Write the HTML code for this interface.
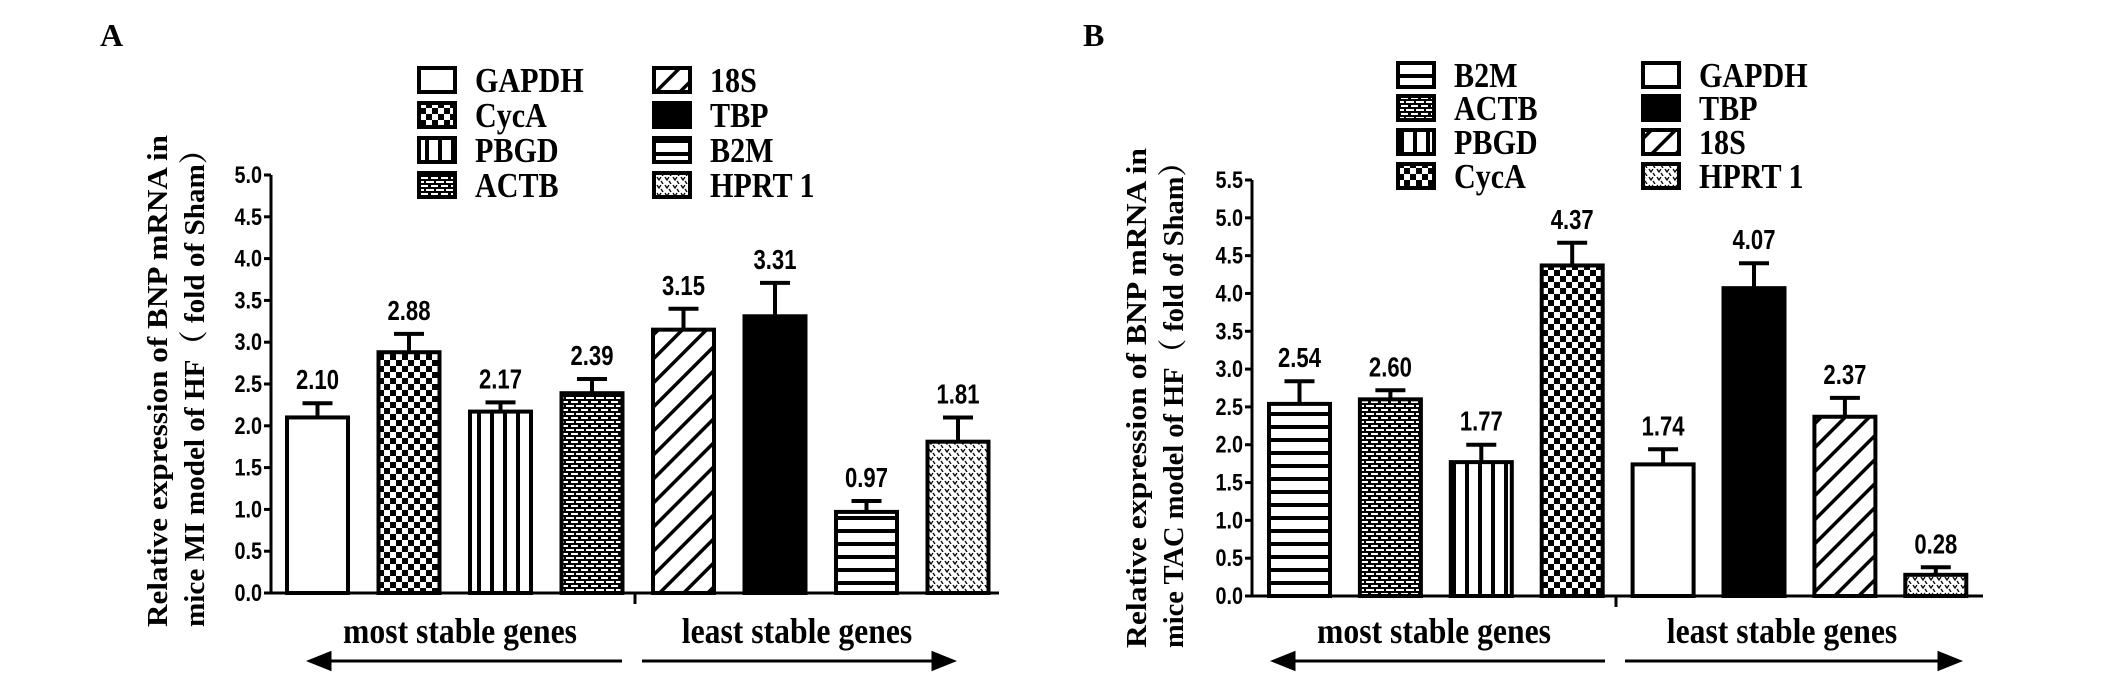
<!DOCTYPE html>
<html><head><meta charset="utf-8"><style>
body{margin:0;background:#fff;}
svg{display:block;}
.ser{font-family:"Liberation Serif","Noto Serif CJK SC",serif;font-weight:bold;}
.san{font-family:"Liberation Sans",sans-serif;font-weight:bold;}
</style></head><body>
<svg id="c" width="2126" height="678" viewBox="0 0 2126 678" xmlns="http://www.w3.org/2000/svg">
<defs>
<pattern id="p-check" width="12" height="12" patternUnits="userSpaceOnUse"><rect width="12" height="12" fill="#fff"/><rect width="6" height="6" fill="#000"/><rect x="6" y="6" width="6" height="6" fill="#000"/></pattern>
<pattern id="p-vert" width="13" height="10" patternUnits="userSpaceOnUse"><rect width="13" height="10" fill="#fff"/><rect x="9" width="4" height="10" fill="#000"/></pattern>
<pattern id="p-horz" width="10" height="13" patternUnits="userSpaceOnUse"><rect width="10" height="13" fill="#fff"/><rect y="9" width="10" height="4" fill="#000"/></pattern>
<pattern id="p-brick" width="10" height="8" patternUnits="userSpaceOnUse"><rect width="10" height="8" fill="#000"/><rect x="1" y="1" width="7" height="2" fill="#fff"/><rect x="6" y="5" width="4" height="2" fill="#fff"/><rect x="0" y="5" width="4" height="2" fill="#fff"/></pattern>
<pattern id="p-diag" width="17" height="17" patternUnits="userSpaceOnUse" patternTransform="rotate(45)"><rect width="17" height="17" fill="#fff"/><rect x="0" width="3.5" height="17" fill="#000"/></pattern>
<pattern id="p-dots" width="8" height="8" patternUnits="userSpaceOnUse"><rect width="8" height="8" fill="#fff"/><path d="M1 1 L3 4 L5 1" stroke="#000" stroke-width="1.3" fill="none"/><path d="M5 5 L7 8" stroke="#000" stroke-width="1.3"/></pattern>
</defs>
</svg>
<script>
const fills={GAPDH:'#fff',CycA:'url(#p-check)',PBGD:'url(#p-vert)',ACTB:'url(#p-brick)','18S':'url(#p-diag)',TBP:'#000',B2M:'url(#p-horz)','HPRT 1':'url(#p-dots)'};
const catsA=['GAPDH','CycA','PBGD','ACTB','18S','TBP','B2M','HPRT 1'];
const valsA=[2.10,2.88,2.17,2.39,3.15,3.31,0.97,1.81];
const errA=[0.17,0.22,0.11,0.17,0.25,0.40,0.13,0.29];
const labelsA=['2.10','2.88','2.17','2.39','3.15','3.31','0.97','1.81'];
const ticksA=['0.0','0.5','1.0','1.5','2.0','2.5','3.0','3.5','4.0','4.5','5.0'];
const legendA=['GAPDH','CycA','PBGD','ACTB','18S','TBP','B2M','HPRT 1'];
const catsB=['B2M','ACTB','PBGD','CycA','GAPDH','TBP','18S','HPRT 1'];
const valsB=[2.54,2.60,1.77,4.37,1.74,4.07,2.37,0.28];
const errB=[0.30,0.12,0.23,0.30,0.20,0.33,0.25,0.10];
const labelsB=['2.54','2.60','1.77','4.37','1.74','4.07','2.37','0.28'];
const ticksB=['0.0','0.5','1.0','1.5','2.0','2.5','3.0','3.5','4.0','4.5','5.0','5.5'];
const legendB=['B2M','ACTB','PBGD','CycA','GAPDH','TBP','18S','HPRT 1'];
const NS='http://www.w3.org/2000/svg';
const svg=document.getElementById('c');
function mk(tag,attrs,parent,text){const e=document.createElementNS(NS,tag);for(const k in attrs)e.setAttribute(k,attrs[k]);if(text!==undefined)e.textContent=text;(parent||svg).appendChild(e);return e;}
function panel(p){
  const g=mk('g',{});
  
  
  const y=v=>p.y0-(v/p.max)*(p.y0-p.yTop);
  const t=mk('text',{x:p.letterX,y:46,'font-size':32,class:'ser'},g,p.id);
  
  
  p.cats.forEach((c,i)=>{
    const x=p.x0+i*p.step;
    const v=p.vals[i];
    const eb=mk('path',{d:`M${x+p.bw/2} ${y(v)} V${y(v+p.err[i])} M${x+p.bw/2-15} ${y(v+p.err[i])} H${x+p.bw/2+15}`,stroke:'#000','stroke-width':4,fill:'none'},g);
    
    
    const r=mk('rect',{x:x,y:y(v),width:p.bw,height:p.y0-y(v),fill:fills[c],stroke:'#000','stroke-width':4},g);
    
    
    const l=mk('text',{transform:`translate(${x+p.bw/2},${y(v+p.err[i])-14}) scale(0.92,1.15)`,'font-size':24,'text-anchor':'middle',class:'san'},g,p.labels[i]);
    
    
  });
  const ax=mk('path',{d:`M${p.ax} ${p.yTop} V${p.y0} H${p.axEnd} M${p.sep} ${p.y0} V${p.y0+11}`,stroke:'#000','stroke-width':3,fill:'none'},g);
  
  
  p.ticks.forEach((tk,i)=>{
    const v=parseFloat(tk);
    mk('path',{d:`M${p.ax-7} ${y(v)} H${p.ax}`,stroke:'#000','stroke-width':3},g);
    const tl=mk('text',{transform:`translate(${p.ax-9},${y(v)+8}) scale(0.9,1.1)`,'font-size':22,'text-anchor':'end',class:'san'},g,tk);
    
    
  });
  const yt=mk('text',{transform:`translate(${p.yl1},${p.yMid}) rotate(-90)`,'font-size':29,'text-anchor':'middle',class:'ser',textLength:p.ylen,lengthAdjust:'spacingAndGlyphs'},g,'Relative expression of BNP mRNA in');
  
  
  const yt2=mk('text',{transform:`translate(${p.yl1+37},${p.yMid}) rotate(-90)`,'font-size':29,'text-anchor':'middle',class:'ser',textLength:p.ylen,lengthAdjust:'spacingAndGlyphs'},g,p.yline2);
  
  
  const gl1=mk('text',{transform:`translate(${p.mostX},643) scale(0.88,1)`,'font-size':36,'text-anchor':'middle',class:'ser'},g,'most stable genes');
  
  
  const gl2=mk('text',{transform:`translate(${p.leastX},643) scale(0.88,1)`,'font-size':36,'text-anchor':'middle',class:'ser'},g,'least stable genes');
  
  
  const a1=mk('path',{d:`M${p.arL[0]+16} 661 H${p.arL[1]} M${p.arL[0]} 661 L${p.arL[0]+20} 653 L${p.arL[0]+20} 669 Z`,stroke:'#000','stroke-width':3,fill:'#000'},g);
  
  
  const a2=mk('path',{d:`M${p.arR[0]} 661 H${p.arR[1]-16} M${p.arR[1]} 661 L${p.arR[1]-20} 653 L${p.arR[1]-20} 669 Z`,stroke:'#000','stroke-width':3,fill:'#000'},g);
  
  
  p.legend.forEach((c,i)=>{
    const col=Math.floor(i/4),row=i%4;
    const bx=p.legX[col],by=p.legY[row];
    const lb=mk('rect',{x:bx,y:by-12,width:36,height:24,fill:fills[c],stroke:'#000','stroke-width':4},g);
    
    
    const lt=mk('text',{transform:`translate(${bx+56},${by+12}) scale(0.86,1)`,'font-size':35,class:'ser'},g,c);
    
    
  });
}
panel({id:'A',letterX:100,cats:catsA,vals:valsA,err:errA,labels:labelsA,ticks:ticksA,legend:legendA,max:5,y0:593,yTop:175,
 x0:287,step:91.5,bw:61,ax:271,axEnd:999,sep:635,yl1:167,yMid:381,ylen:492,yline2:'mice MI model of HF（ fold of Sham）',
 mostX:460,leastX:797,arL:[310,622],arR:[642,953],legX:[419,654],legY:[80,115,150,185]});
panel({id:'B',letterX:1083,cats:catsB,vals:valsB,err:errB,labels:labelsB,ticks:ticksB,legend:legendB,max:5.5,y0:596,yTop:180,
 x0:1269,step:90.9,bw:61,ax:1252,axEnd:1983,sep:1616,yl1:1146,yMid:398,ylen:500,yline2:'mice TAC model of HF（ fold of Sham）',
 mostX:1434,leastX:1782,arL:[1274,1605],arR:[1625,1959],legX:[1398,1643],legY:[75,108,142,176]});
</script>
</body></html>
